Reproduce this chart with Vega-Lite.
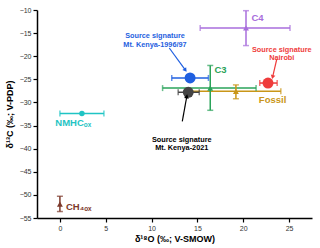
{
  "$schema": "https://vega.github.io/schema/vega-lite/v6.json",
  "width": 275,
  "height": 208,
  "autosize": {"type": "none"},
  "padding": {"left": 37, "top": 10, "right": 8, "bottom": 30},
  "background": "white",
  "config": {
    "view": {"stroke": null},
    "font": "Liberation Sans",
    "axis": {"grid": false, "domainColor": "black", "domainWidth": 1.5, "tickColor": "black", "tickWidth": 1.2, "tickSize": 4, "labelFontSize": 7, "labelColor": "#333", "titleFontSize": 9, "titleFontWeight": "bold", "titleColor": "black", "labelFont": "Liberation Sans", "titleFont": "Liberation Sans", "labelFlush": false}
  },
  "datasets": {
    "pts": [
      {"g": "NMHC", "x": 2.4, "y": -32.4, "xlo": 0.0, "xhi": 4.8, "ylo": null, "yhi": null},
      {"g": "CH4", "x": 0.0, "y": -52.0, "xlo": null, "xhi": null, "ylo": -50.3, "yhi": -53.6},
      {"g": "C4", "x": 20.3, "y": -13.9, "xlo": 15.3, "xhi": 25.1, "ylo": -10.15, "yhi": -17.7},
      {"g": "C3", "x": 16.4, "y": -26.9, "xlo": 11.2, "xhi": 21.4, "ylo": -22.0, "yhi": -31.7},
      {"g": "Fossil", "x": 19.2, "y": -27.6, "xlo": 14.3, "xhi": 24.1, "ylo": -26.2, "yhi": -29.2},
      {"g": "MK9697", "x": 14.2, "y": -24.7, "xlo": 12.2, "xhi": 16.2, "ylo": null, "yhi": null},
      {"g": "MK2021", "x": 14.0, "y": -27.8, "xlo": 12.9, "xhi": 15.2, "ylo": null, "yhi": null},
      {"g": "Nairobi", "x": 22.7, "y": -25.8, "xlo": 21.8, "xhi": 23.7, "ylo": null, "yhi": null}
    ],
    "labels": [
      {"g": "C4", "x": 20.9, "y": -11.7, "text": "C4"},
      {"g": "C3", "x": 16.85, "y": -22.9, "text": "C3"},
      {"g": "Fossil", "x": 21.7, "y": -29.4, "text": "Fossil"},
      {"g": "NMHC", "x": -0.5, "y": -34.45, "text": "NMHCₒₓ"},
      {"g": "CH4", "x": 0.66, "y": -52.6, "text": "CH₄ₒₓ"}
    ],
    "notes": [
      {"g": "MK9697", "x": 10.37, "y": -15.7, "text": "Source signature\nMt. Kenya-1996/97"},
      {"g": "Nairobi", "x": 24.2, "y": -18.6, "text": "Source signature\nNairobi"},
      {"g": "Note2021", "x": 13.29, "y": -38.06, "text": "Source signature\nMt. Kenya-2021"}
    ],
    "arrows": [
      {"g": "MK9697", "x1": 11.93, "y1": -18.22, "x2": 13.65, "y2": -22.9},
      {"g": "Nairobi", "x1": 23.66, "y1": -20.6, "x2": 23.22, "y2": -24.37},
      {"g": "Note2021", "x1": 13.35, "y1": -34.1, "x2": 13.83, "y2": -28.82}
    ]
  },
  "layer": [
    {
      "data": {"name": "pts"},
      "transform": [{"filter": "datum.xlo != null"}],
      "mark": {"type": "rule", "strokeWidth": 1.5},
      "encoding": {
        "x": {"field": "xlo", "type": "quantitative", "scale": {"domain": [-2.5, 27.5], "nice": false, "zero": false}, "axis": {"values": [0, 5, 10, 15, 20, 25], "tickCount": 6, "title": "δ¹⁸O (‰; V-SMOW)", "titlePadding": 3, "labelPadding": 2, "labelOverlap": false}},
        "x2": {"field": "xhi"},
        "y": {"field": "y", "type": "quantitative", "scale": {"domain": [-55, -10], "nice": false, "zero": false}, "axis": {"values": [-10, -15, -20, -25, -30, -35, -40, -45, -50, -55], "tickCount": 10, "title": "δ¹³C (‰; V-PDP)", "titlePadding": 5, "labelPadding": 2, "labelOverlap": false}},
        "color": {"field": "g", "type": "nominal", "legend": null, "scale": {"domain": ["NMHC", "CH4", "C4", "C3", "Fossil", "MK9697", "MK2021", "Nairobi", "Note2021"], "range": ["#1fc4c4", "#7d3a2c", "#a86edc", "#2aa35a", "#c99618", "#1f5fe0", "#444444", "#ef3c3c", "#000000"]}}
      }
    },
    {
      "data": {"name": "pts"},
      "transform": [{"filter": "datum.ylo != null"}],
      "mark": {"type": "rule", "strokeWidth": 1.5},
      "encoding": {
        "x": {"field": "x", "type": "quantitative"},
        "y": {"field": "ylo", "type": "quantitative"},
        "y2": {"field": "yhi"},
        "color": {"field": "g", "type": "nominal", "legend": null}
      }
    },
    {
      "data": {"name": "pts"},
      "transform": [{"filter": "datum.xlo != null"}, {"fold": ["xlo", "xhi"], "as": ["end", "xe"]}],
      "mark": {"type": "tick", "orient": "vertical", "thickness": 1.5, "size": 6},
      "encoding": {
        "x": {"field": "xe", "type": "quantitative"},
        "y": {"field": "y", "type": "quantitative"},
        "color": {"field": "g", "type": "nominal", "legend": null}
      }
    },
    {
      "data": {"name": "pts"},
      "transform": [{"filter": "datum.ylo != null"}, {"fold": ["ylo", "yhi"], "as": ["end", "ye"]}],
      "mark": {"type": "tick", "orient": "horizontal", "thickness": 1.5, "size": 6},
      "encoding": {
        "x": {"field": "x", "type": "quantitative"},
        "y": {"field": "ye", "type": "quantitative"},
        "color": {"field": "g", "type": "nominal", "legend": null}
      }
    },
    {
      "data": {"name": "pts"},
      "transform": [{"filter": "indexof(['CH4','C4','C3','Fossil'], datum.g) >= 0"}],
      "mark": {"type": "point", "shape": "triangle-up", "filled": true, "opacity": 1, "size": 35},
      "encoding": {
        "x": {"field": "x", "type": "quantitative"},
        "y": {"field": "y", "type": "quantitative"},
        "color": {"field": "g", "type": "nominal", "legend": null}
      }
    },
    {
      "data": {"name": "pts"},
      "transform": [{"filter": "datum.g == 'NMHC'"}],
      "mark": {"type": "point", "shape": "circle", "filled": true, "opacity": 1, "size": 30},
      "encoding": {
        "x": {"field": "x", "type": "quantitative"},
        "y": {"field": "y", "type": "quantitative"},
        "color": {"field": "g", "type": "nominal", "legend": null}
      }
    },
    {
      "data": {"name": "pts"},
      "transform": [{"filter": "indexof(['MK9697','MK2021','Nairobi'], datum.g) >= 0"}],
      "mark": {"type": "point", "shape": "circle", "filled": true, "opacity": 1, "size": 120},
      "encoding": {
        "x": {"field": "x", "type": "quantitative"},
        "y": {"field": "y", "type": "quantitative"},
        "color": {"field": "g", "type": "nominal", "legend": null}
      }
    },
    {
      "data": {"name": "labels"},
      "mark": {"type": "text", "align": "left", "baseline": "middle", "fontWeight": "bold", "fontSize": 9.5},
      "encoding": {
        "x": {"field": "x", "type": "quantitative"},
        "y": {"field": "y", "type": "quantitative"},
        "text": {"field": "text"},
        "color": {"field": "g", "type": "nominal", "legend": null}
      }
    },
    {
      "data": {"name": "notes"},
      "mark": {"type": "text", "align": "center", "baseline": "middle", "fontWeight": "bold", "fontSize": 7.3, "lineBreak": "\n", "lineHeight": 8.6},
      "encoding": {
        "x": {"field": "x", "type": "quantitative"},
        "y": {"field": "y", "type": "quantitative"},
        "text": {"field": "text"},
        "color": {"field": "g", "type": "nominal", "legend": null}
      }
    },
    {
      "data": {"name": "arrows"},
      "mark": {"type": "rule", "strokeWidth": 1.2},
      "encoding": {
        "x": {"field": "x1", "type": "quantitative"},
        "y": {"field": "y1", "type": "quantitative"},
        "x2": {"field": "x2"},
        "y2": {"field": "y2"},
        "color": {"field": "g", "type": "nominal", "legend": null}
      }
    },
    {
      "data": {"name": "arrows"},
      "transform": [{"filter": "datum.g == 'MK9697'"}],
      "mark": {"type": "point", "shape": "triangle", "filled": true, "opacity": 1, "size": 22, "angle": 144},
      "encoding": {
        "x": {"field": "x2", "type": "quantitative"},
        "y": {"field": "y2", "type": "quantitative"},
        "color": {"field": "g", "type": "nominal", "legend": null}
      }
    },
    {
      "data": {"name": "arrows"},
      "transform": [{"filter": "datum.g == 'Nairobi'"}],
      "mark": {"type": "point", "shape": "triangle", "filled": true, "opacity": 1, "size": 22, "angle": 193},
      "encoding": {
        "x": {"field": "x2", "type": "quantitative"},
        "y": {"field": "y2", "type": "quantitative"},
        "color": {"field": "g", "type": "nominal", "legend": null}
      }
    },
    {
      "data": {"name": "arrows"},
      "transform": [{"filter": "datum.g == 'Note2021'"}],
      "mark": {"type": "point", "shape": "triangle", "filled": true, "opacity": 1, "size": 22, "angle": 10},
      "encoding": {
        "x": {"field": "x2", "type": "quantitative"},
        "y": {"field": "y2", "type": "quantitative"},
        "color": {"field": "g", "type": "nominal", "legend": null}
      }
    }
  ]
}
